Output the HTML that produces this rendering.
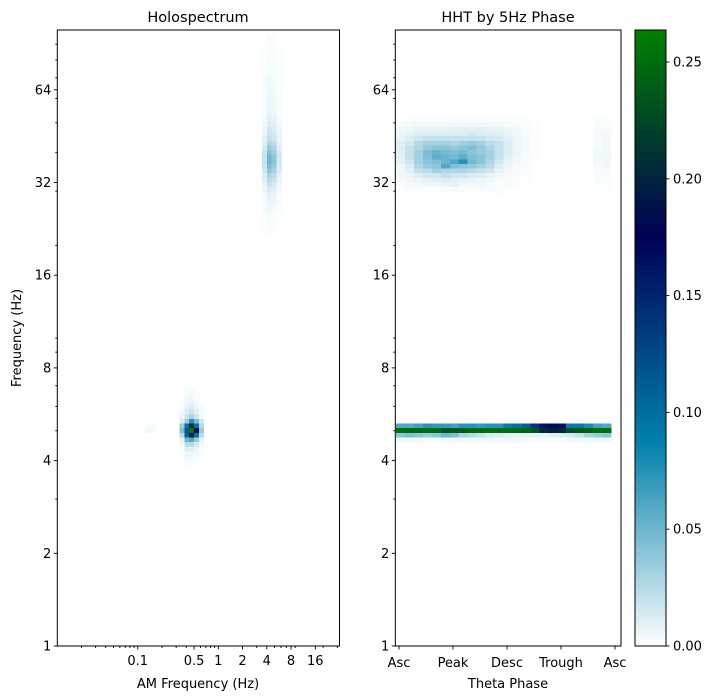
<!DOCTYPE html>
<html><head><meta charset="utf-8">
<style>
body{margin:0;background:#fff;}
svg{display:block;font-family:"DejaVu Sans","Liberation Sans",sans-serif;}
</style></head>
<body>
<svg id="fig" width="716" height="699" viewBox="0 0 716 699">
<rect width="716" height="699" fill="#fff"/>
<g id="left"></g>
<g id="right"></g>
<g id="cbar"></g>
</svg>
<script>
// ---- data (values in thousandths) ----
const vmax = 0.2637;
const yMajorTicks = [1,2,4,8,16,32,64];
const yMinorTicks = [3,5,6,7,9,10,20,30,40,50,60,70,80,90];
const amMajorTicks = [0.1,0.5,1,2,4,8,16];
const amMajorLabels = ["0.1","0.5","1","2","4","8","16"];
const amMinorTicks = [0.02,0.03,0.04,0.05,0.06,0.07,0.08,0.09,0.2,0.3,0.4,0.6,0.7,0.8,0.9,3,5,6,7,9,20,30];
const phaseLabels = ["Asc","Peak","Desc","Trough","Asc"];
const cbarTicks = [0,0.05,0.10,0.15,0.20,0.25];

// Left: theta blob, AM bins -8..-4 (0.2 octave), freq bins 55 down to 38 (0.05 octave)
const thetaBlobAmBins = [-8,-7,-6,-5,-4];
const thetaBlobTopBin = 55;
const thetaBlob = [
 [0,2,2,0,0],[0,3,4,2,0],[0,4,5,2,0],[2,6,8,4,0],[2,8,12,6,2],[4,12,18,10,3],
 [6,20,30,16,4],[12,35,75,45,15],[35,95,200,95,25],[45,115,260,170,35],
 [25,110,195,95,25],[8,50,60,35,8],[4,25,25,15,4],[2,12,12,8,2],
 [1,6,6,4,1],[0,4,4,2,0],[0,2,2,1,0],[0,1,1,0,0]
];
// faint blob at AM ~0.1 Hz
const faintAmBins = [-15,-14];
const faintRows = [47,46];
const faintBlob = [[3,3],[4,4]];
// Left: gamma streak, AM bins 9..12, freq bins from 131 downward
const gammaStreakAmBins = [9,10,11,12];
const gammaStreakTopBin = 131;
const streakCol9  = [0,0,1,1,1,1,1,1,1,2,2,2,2,2,3,3,3,3,4,5,6,7,9,11,14,17,19,20,18,15,12,10,7,6,4,3,2,2,2,1,1,1,1];
const streakCol10 = [2,2,2,2,3,3,3,3,3,4,4,4,5,5,6,6,7,8,10,12,15,18,22,28,35,42,48,50,45,38,30,24,18,14,10,8,6,5,4,3,3,2,2];
const streakCol11 = [1,1,2,2,2,2,3,3,3,3,3,4,4,4,5,5,6,7,8,10,12,15,18,22,28,34,38,40,36,30,24,19,14,11,8,6,5,4,3,2,2,2,1];
const streakCol12 = [0,0,0,1,1,1,1,1,1,1,1,1,2,2,2,2,2,3,3,4,5,6,7,9,11,13,15,15,14,12,9,7,5,4,3,2,2,1,1,1,0,0,0];

// Right: 24 phase bins
const thetaRow47 = [60,60,65,75,70,70,65,75,75,70,75,75,90,95,110,140,165,170,165,90,90,80,65,60];
const thetaRow46 = [255,250,250,250,250,232,238,240,250,250,250,250,250,250,245,232,205,198,200,228,240,245,255,255];
const thetaRow45 = [40,45,40,35,40,50,45,30,25,20,15,12,10,8,8,8,8,10,12,15,20,30,35,40];
const thetaRow44 = [5,5,5,3,3,5,5,5,5,5,5,5,4,4,3,3,3,3,3,4,4,5,5,5];
const gammaTopBin = 113;
const gammaMap = [
 [0,2,2,2,2,2,2,2,2,2,2,2,2,2,1,0,0,0,0,0,0,0,2,2],
 [2,3,4,4,4,4,4,4,5,5,4,4,3,2,2,1,0,0,0,0,0,0,2,2],
 [4,6,8,8,8,8,10,10,10,10,8,8,6,4,2,1,0,0,0,0,0,0,3,3],
 [6,8,12,12,12,12,12,12,15,12,12,10,8,5,2,1,0,0,0,0,0,0,3,4],
 [8,12,16,20,20,20,20,20,20,20,16,14,10,6,3,1,0,0,0,0,0,0,3,4],
 [10,16,25,32,32,32,28,32,36,32,24,20,12,6,3,1,0,0,0,0,0,0,3,4],
 [12,20,28,36,40,40,36,40,44,36,28,20,12,6,3,1,0,0,0,0,0,0,3,4],
 [12,20,32,44,52,48,44,48,40,36,32,20,12,6,3,1,0,0,0,0,0,0,4,5],
 [10,20,32,44,56,52,48,56,44,40,32,20,10,5,2,1,0,0,0,0,0,0,4,5],
 [8,16,32,40,44,52,60,75,48,40,28,16,8,4,2,1,0,0,0,0,0,0,4,5],
 [6,12,28,36,40,60,44,40,36,32,24,12,6,3,2,0,0,0,0,0,0,0,3,4],
 [5,10,20,24,32,28,28,28,24,20,16,8,5,2,1,0,0,0,0,0,0,0,2,3],
 [4,6,12,16,16,20,16,16,12,12,8,5,3,2,1,0,0,0,0,0,0,0,2,2],
 [2,5,6,8,10,12,10,8,8,6,5,3,2,1,1,0,0,0,0,0,0,0,2,2],
 [2,3,4,5,5,6,8,5,4,5,3,2,2,1,0,0,0,0,0,0,0,0,1,1],
 [1,2,2,2,2,2,3,2,2,3,2,2,1,0,0,0,0,0,0,0,0,0,1,1],
 [1,1,1,1,1,1,1,1,1,1,1,1,0,0,0,0,0,0,0,0,0,0,0,0],
 [1,1,1,1,1,1,1,1,1,1,1,0,0,0,0,0,0,0,0,0,0,0,0,0]
];

// ---- scales ----
const NS="http://www.w3.org/2000/svg";
const Y0=646, OCT=92.7, FBIN=0.05;
const yOf = f => Y0 - Math.log2(f)*OCT;
const binTop = k => Y0 - (k+1)*FBIN*OCT;
const binH = FBIN*OCT;
const AMX0=218.3, AMOCT=24.25, AMBIN=0.2;
const xAm = a => AMX0 + Math.log2(a)*AMOCT;
const amBinLeft = j => AMX0 + j*AMBIN*AMOCT;
const amBinW = AMBIN*AMOCT;
const PX0=396, PBW=8.96;
const phaseBinLeft = i => PX0 + i*PBW;
const phaseTickX = i => 399 + i*54;
const CB_TOP=30, CB_BOT=646;
const yCb = v => CB_BOT - v/vmax*(CB_BOT-CB_TOP);

function clip(v){return Math.max(0,Math.min(1,v));}
function color(v){
  const x = 1 - clip(v/vmax);
  const r=clip(3*x-2), g=clip(Math.abs((3*x-1)/2)), b=clip(x);
  return `rgb(${Math.round(r*255)},${Math.round(g*255)},${Math.round(b*255)})`;
}
function el(tag, attrs, parent){
  const e=document.createElementNS(NS,tag);
  for(const k in attrs) e.setAttribute(k,attrs[k]);
  parent.appendChild(e); return e;
}
function cell(parent,x,y,w,h,v,name){
  if(v<=0) return;
  const r=el('rect',{x:x,y:y,width:w+0.4,height:h+0.4,fill:color(v/1000),'shape-rendering':'crispEdges'},parent);
  
  
}
function text(parent,x,y,s,anchor,size,name,rot){
  const t=el('text',{x:x,y:y,'text-anchor':anchor,'font-size':size,fill:'#000'},parent);
  if(rot) t.setAttribute('transform',`rotate(-90 ${x} ${y})`);
  t.textContent=s;
  
  
  return t;
}
function line(parent,x1,y1,x2,y2,name){
  const l=el('line',{x1:x1,y1:y1,x2:x2,y2:y2,stroke:'#000','stroke-width':0.9},parent);
  
  
}
function yAxis(parent,ax){
  yMajorTicks.forEach(f=>{
    const y=yOf(f);
    line(parent,ax-3.5,y,ax,y,'y-major-tick');
    text(parent,ax-6,y+4.5,String(f),'end',13,'y-tick-label');
  });
  yMinorTicks.forEach(f=>{ const y=yOf(f); line(parent,ax-2,y,ax,y,'y-minor-tick'); });
}
function frame(parent,x0,x1,name){
  const r=el('rect',{x:x0,y:30,width:x1-x0,height:616,fill:'none',stroke:'#000','stroke-width':1},parent);
  
  
}

// ---- left panel ----
const L=document.getElementById('left');
thetaBlob.forEach((row,ri)=>row.forEach((v,ci)=>cell(L,amBinLeft(thetaBlobAmBins[ci]),binTop(thetaBlobTopBin-ri),amBinW,binH,v,'holo-cell')));
faintBlob.forEach((row,ri)=>row.forEach((v,ci)=>cell(L,amBinLeft(faintAmBins[ci]),binTop(faintRows[ri]),amBinW,binH,v,'holo-cell')));
[streakCol9,streakCol10,streakCol11,streakCol12].forEach((col,ci)=>col.forEach((v,ri)=>cell(L,amBinLeft(gammaStreakAmBins[ci]),binTop(gammaStreakTopBin-ri),amBinW,binH,v,'holo-cell')));
frame(L,57.3,339.5,'holospectrum-frame');
yAxis(L,57.3);
amMajorTicks.forEach((a,i)=>{ const x=xAm(a); line(L,x,646,x,649.5,'x-major-tick'); text(L,x,665,amMajorLabels[i],'middle',13,'x-tick-label'); });
amMinorTicks.forEach(a=>{ const x=xAm(a); line(L,x,646,x,648,'x-minor-tick'); });
text(L,198,22,'Holospectrum','middle',14.5,'left-title');
text(L,198,688,'AM Frequency (Hz)','middle',13,'x-axis-title');
text(L,21,338,'Frequency (Hz)','middle',13,'y-axis-title',true);

// ---- right panel ----
const R=document.getElementById('right');
gammaMap.forEach((row,ri)=>row.forEach((v,ci)=>cell(R,phaseBinLeft(ci),binTop(gammaTopBin-ri),PBW,binH,v,'phase-cell')));
[[47,thetaRow47],[46,thetaRow46],[45,thetaRow45],[44,thetaRow44]].forEach(([k,row])=>row.forEach((v,i)=>cell(R,phaseBinLeft(i),binTop(k),PBW,binH,v,'phase-cell')));
frame(R,395.3,621,'hht-phase-frame');
yAxis(R,395.3);
phaseLabels.forEach((s,i)=>{ const x=phaseTickX(i); line(R,x,646,x,649.5,'x-major-tick'); text(R,x,667,s,'middle',13,'x-tick-label'); });
text(R,508,22,'HHT by 5Hz Phase','middle',14.5,'right-title');
text(R,508,688,'Theta Phase','middle',13,'x-axis-title');

// ---- colorbar ----
const C=document.getElementById('cbar');
for(let i=0;i<308;i++){
  const v0=vmax*i/308, y=CB_BOT-(i+1)*2;
  const r=el('rect',{x:635,y:y,width:31,height:2.4,fill:color(v0+vmax/616),'shape-rendering':'crispEdges'},C);
  
  
}
const cf=el('rect',{x:635,y:30,width:31,height:616,fill:'none',stroke:'#000','stroke-width':1},C);


cbarTicks.forEach(v=>{ const y=yCb(v); line(C,666,y,669.5,y,'colorbar-tick'); text(C,673,y+4.5,v.toFixed(2),'start',13,'colorbar-tick-label'); });
</script>
</body></html>
